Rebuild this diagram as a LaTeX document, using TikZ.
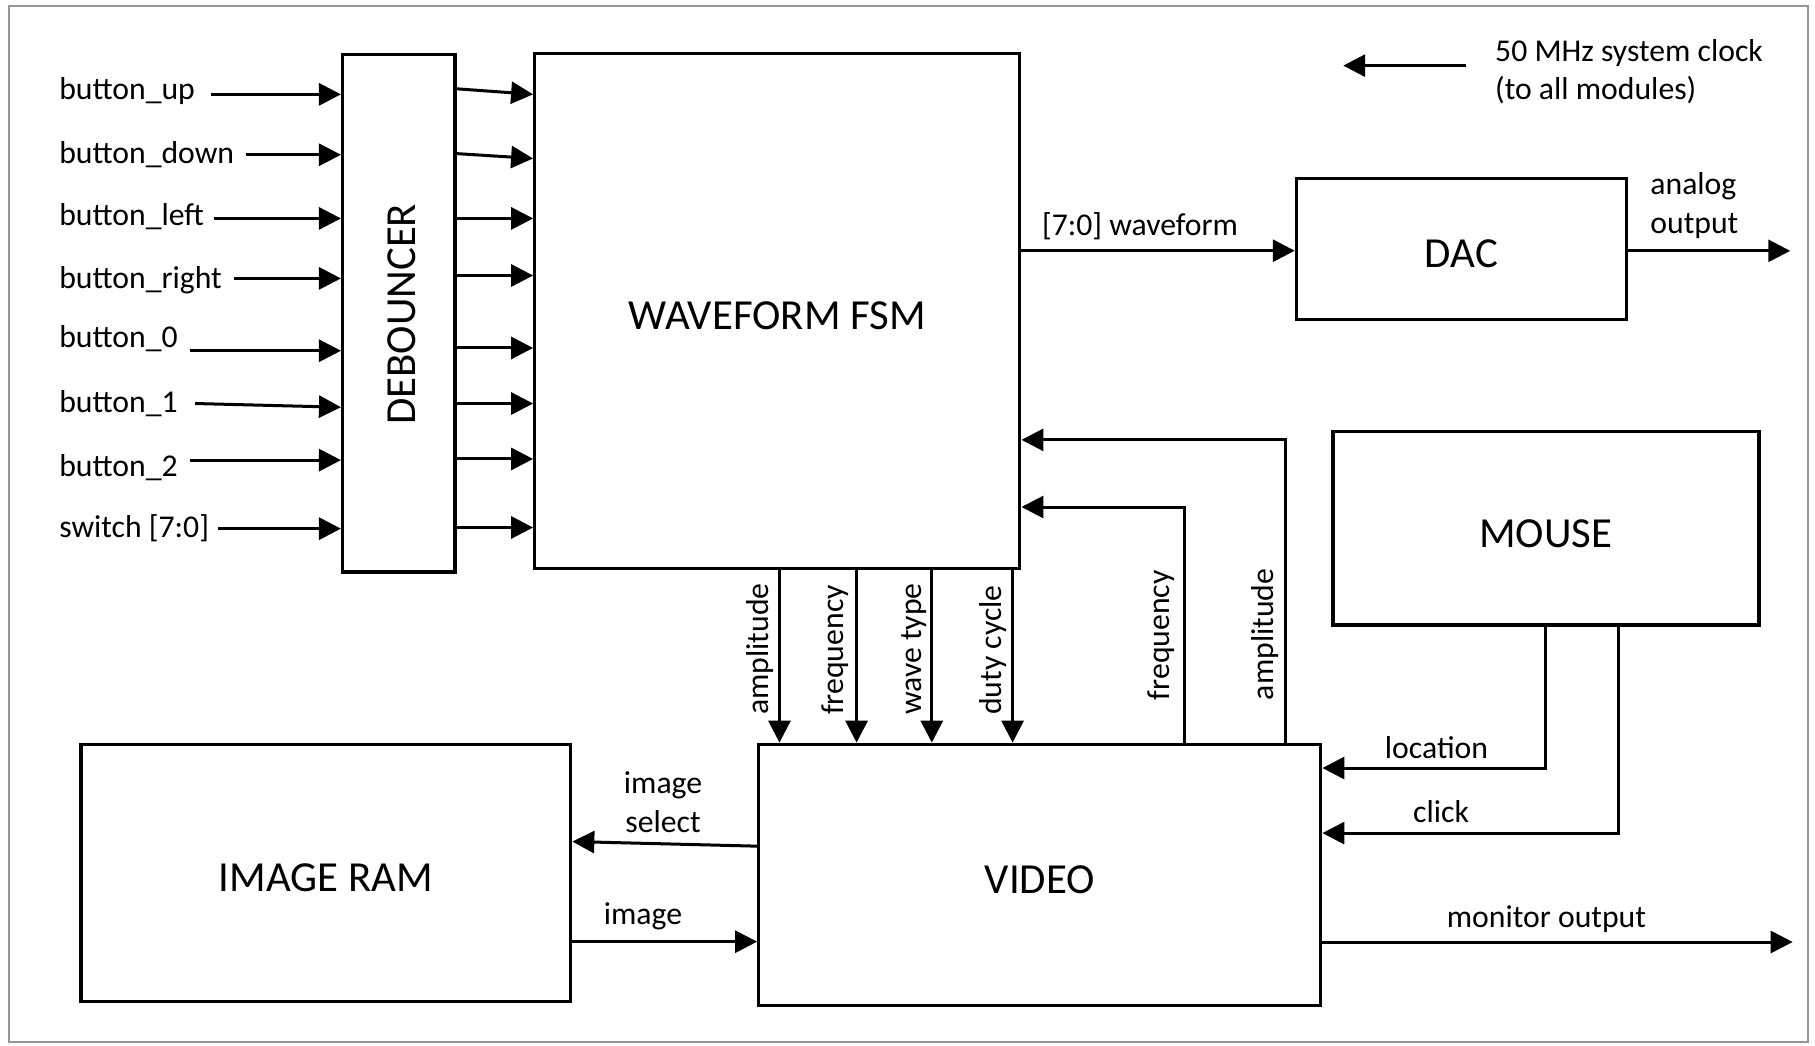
\documentclass[tikz,border=0pt]{standalone}
\usepackage{fontspec}
\setmainfont{Carlito}
\usetikzlibrary{arrows.meta}
\newcommand{\lblfont}{\fontsize{27.4pt}{33.5pt}\selectfont}
\newcommand{\boxfont}{\fontsize{37pt}{44pt}\selectfont}
\definecolor{framec}{RGB}{150,150,150}
\begin{document}
\begin{tikzpicture}[x=1pt,y=-1pt,
  box/.style={draw, line width=2.9pt, inner sep=0pt, font=\boxfont, text height=33pt, text depth=0pt},
  lbl/.style={inner sep=0pt, font=\lblfont},
  arr/.style={line width=2.6pt, -{Triangle[length=19pt,width=19pt]}}]
\useasboundingbox (0,0) rectangle (1568,903);
\draw[framec, line width=2pt] (8,5) rectangle (1562,900);

% blocks
\node[box, minimum width=97pt, minimum height=447pt] (deb) at (344.5,270.5) {};
\node[font=\boxfont, rotate=90, inner sep=0pt] (debt) at (347.5,271.5) {DEBOUNCER};
\node[box, minimum width=419pt, minimum height=445pt] (fsm) at (671.5,268.5) {WAVEFORM FSM};
\node[box, minimum width=285pt, minimum height=122pt] (dac) at (1262.5,215) {DAC};
\node[box, minimum width=368pt, minimum height=167pt] (mouse) at (1335.5,456.5) {MOUSE};
\node[box, minimum width=423pt, minimum height=222pt] (ram) at (281.5,754) {IMAGE RAM};
\node[box, minimum width=485.5pt, minimum height=225.5pt] (video) at (898.25,755.75) {VIDEO};

% input labels
\node[lbl, anchor=west] (l1) at (51,78.3) {button\_up};
\node[lbl, anchor=west] (l2) at (51,133.7) {button\_down};
\node[lbl, anchor=west] (l3) at (51,187) {button\_left};
\node[lbl, anchor=west] (l4) at (51,242) {button\_right};
\node[lbl, anchor=west] (l5) at (51,292.6) {button\_0};
\node[lbl, anchor=west] (l6) at (51,348.6) {button\_1};
\node[lbl, anchor=west] (l7) at (51,403.6) {button\_2};
\node[lbl, anchor=west] (l8) at (51,456.7) {switch [7:0]};

% input arrows
\foreach \xs/\ys/\ye in {182/81.5/81.5, 212.6/133.7/133.7, 185/188.7/188.7, 202/240.5/240.5,
  164/303/303, 168.6/348.6/351.8, 164/397.5/397.5, 188.4/456.7/456.7}{
  \coordinate (s) at (\xs,\ys); \coordinate (e) at (0,\ye);
  \draw[arr] (s) -- (e -| deb.west);
}

% debouncer to fsm
\foreach \ys/\ye in {76.7/81.5, 132.7/136.9, 188.7/188.7, 238/238, 300.6/300.6, 348.6/348.6, 396.5/396.5, 455.7/455.7}{
  \coordinate (s) at (0,\ys); \coordinate (e) at (0,\ye);
  \draw[arr] (s -| deb.east) -- (e -| fsm.west);
}

% clock
\coordinate (ck1) at (1266.4,56.7);
\coordinate (ck2) at (1160.4,56.7);
\draw[arr] (ck1) -- (ck2);
\node[lbl, anchor=west, align=left] (clkl) at (1291.5,61.9) {50 MHz system clock\\(to all modules)};

% waveform to DAC
\coordinate (wfy) at (0,216.6);
\draw[arr] (wfy -| fsm.east) -- (wfy -| dac.west);
\node[lbl, anchor=west] (wfl) at (900,195) {[7:0] waveform};

% analog output
\coordinate (aout) at (1546.6,216.7);
\draw[arr] (aout -| dac.east) -- (aout);
\node[lbl, anchor=west, align=left] (aol) at (1425.6,177.5) {analog\\output};

% fsm to video
\foreach \x in {673.4,740,805,874.8}{
  \coordinate (v) at (\x,0);
  \draw[arr] (v |- fsm.south) -- (v |- video.north);
}
\node[lbl, rotate=90, anchor=west] (la1) at (657,617.7) {amplitude};
\node[lbl, rotate=90, anchor=west] (la2) at (721.5,617.7) {frequency};
\node[lbl, rotate=90, anchor=west] (la3) at (790,617.7) {wave type};
\node[lbl, rotate=90, anchor=west] (la4) at (858,617.7) {duty cycle};

% feedback video to fsm
\coordinate (fbf) at (1023.5,438);
\draw[arr] (fbf |- video.north) -- (fbf) -- (fbf -| fsm.east);
\coordinate (fba) at (1110.5,380);
\draw[arr] (fba |- video.north) -- (fba) -- (fba -| fsm.east);
\node[lbl, rotate=90, anchor=west] (lf1) at (1003,605) {frequency};
\node[lbl, rotate=90, anchor=west] (lf2) at (1092.5,605) {amplitude};

% mouse to video
\coordinate (ml) at (1335.5,663.5);
\draw[arr] (ml |- mouse.south) -- (ml) -- (ml -| video.east);
\coordinate (mc) at (1398.5,719.7);
\draw[arr] (mc |- mouse.south) -- (mc) -- (mc -| video.east);
\node[lbl] (lloc) at (1241,646) {location};
\node[lbl] (lclk) at (1245,701) {click};

% monitor output
\coordinate (mon) at (1548.7,813.8);
\draw[arr] (mon -| video.east) -- (mon);
\node[lbl] (lmon) at (1336,794.3) {monitor output};

% image ram links
\coordinate (isA) at (0,731);
\coordinate (isB) at (0,727);
\draw[arr] (isA -| video.west) -- (isB -| ram.east);
\node[lbl, align=center] (lis) at (572.8,693.3) {image\\select};
\coordinate (imA) at (0,813.5);
\draw[arr] (imA -| ram.east) -- (imA -| video.west);
\node[lbl] (lim) at (555.4,792) {image};
\end{tikzpicture}
\end{document}
